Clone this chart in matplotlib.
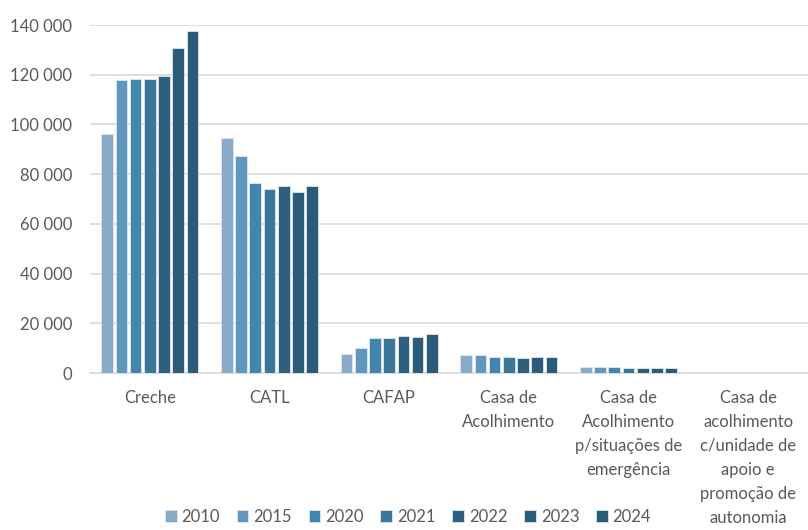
import numpy as np
import matplotlib.pyplot as plt
from matplotlib.ticker import FuncFormatter

# respostas sociais
categorias = ["Creche", "CATL", "CAFAP", "Casa de\nAcolhimento",
              "Casa de\nAcolhimento\np/situações de\nemergência",
              "Casa de\nacolhimento\nc/unidade de\napoio e\npromoção de\nautonomia"]
anos = ["2010", "2015", "2020", "2021", "2022", "2023", "2024"]

v2010 = [96000, 94500, 7500, 7400, 2400, 0]
v2015 = [117700, 87300, 9900, 7100, 2400, 60]
v2020 = [118300, 76300, 14000, 6400, 2300, 120]
v2021 = [118300, 73900, 14000, 6300, 2200, 160]
v2022 = [119600, 75200, 14900, 6100, 2000, 220]
v2023 = [130700, 72700, 14500, 6400, 2200, 260]
v2024 = [137400, 75200, 15600, 6400, 1900, 320]
valores = [v2010, v2015, v2020, v2021, v2022, v2023, v2024]

cores = ["#88a9c7", "#5f97bd", "#4286af", "#3a7799", "#2d5f7e", "#2b5d7b", "#2a5b79"]

plt.rcParams['font.family'] = ['Lato', 'DejaVu Sans']

fig = plt.figure(figsize=(8.08, 5.30), dpi=100)
ax = fig.add_axes([90 / 808, 1 - 373 / 530, 718 / 808, 348 / 530])

x = np.arange(len(categorias))
passo = 0.119
for i, (ano, vals) in enumerate(zip(anos, valores)):
    ax.bar(x + (i - 3) * passo, vals, width=passo * 0.82, color=cores[i],
           edgecolor="#dfe7ef", linewidth=0.6, label=ano, zorder=3)

ax.set_xlim(-0.5, len(categorias) - 0.5)
ax.set_ylim(0, 140000)
ax.set_yticks(np.arange(0, 140001, 20000))
ax.yaxis.set_major_formatter(FuncFormatter(lambda v, p: f"{int(v):,}".replace(",", " ")))
ax.grid(axis="y", color="#d9d9d9", linewidth=1.2, zorder=0)
for s in ["top", "right", "left"]:
    ax.spines[s].set_visible(False)
ax.spines["bottom"].set_color("#d9d9d9")
ax.spines["bottom"].set_linewidth(1.2)

ax.set_xticks(x)
ax.set_xticklabels(categorias, va="top", linespacing=1.62)
ax.tick_params(axis="x", length=0, pad=12, labelsize=12, colors="#595959")
ax.tick_params(axis="y", length=0, pad=13, labelsize=12, colors="#595959")

fig.legend(loc="lower center", bbox_to_anchor=(0.505, -0.018), ncol=7, frameon=False,
           handlelength=0.7, handleheight=0.7, handletextpad=0.3, columnspacing=1.0,
           fontsize=12, labelcolor="#595959")

fig.savefig("out.png", dpi=100)
